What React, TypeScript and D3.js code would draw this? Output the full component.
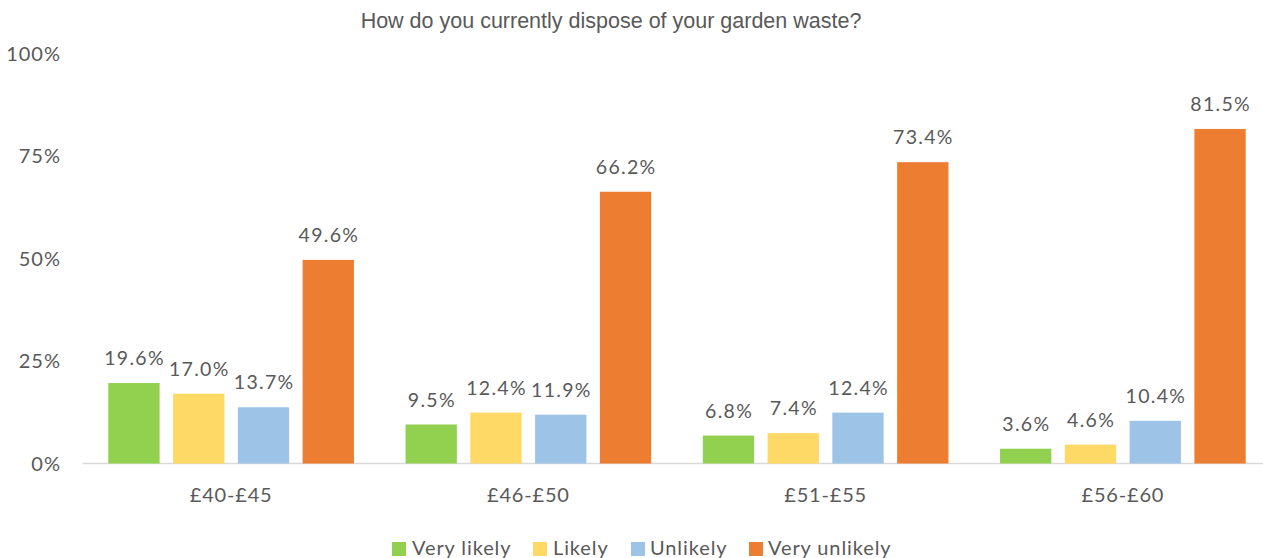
import React from "react";
import * as d3 from "d3";

const categories = ["£40-£45", "£46-£50", "£51-£55", "£56-£60"];
const seriesNames = ["Very likely", "Likely", "Unlikely", "Very unlikely"];
const seriesColors = ["#92D050", "#FFD966", "#9DC3E6", "#ED7D31"];
const veryLikely = [19.6, 9.5, 6.8, 3.6];
const likely = [17.0, 12.4, 7.4, 4.6];
const unlikely = [13.7, 11.9, 12.4, 10.4];
const veryUnlikely = [49.6, 66.2, 73.4, 81.5];
const yTicks = [0, 25, 50, 75, 100];
const title = "How do you currently dispose of your garden waste?";

const seriesValues = [veryLikely, likely, unlikely, veryUnlikely];

const W = 1263;
const H = 558;
const textColor = "#595959";
const labelFont = "Lato, 'Open Sans', sans-serif";

export default function App() {
  const x0 = d3.scaleBand<string>().domain(categories).range([82.5, 1271.5]).padding(0);
  const bw0 = x0.bandwidth();
  const outer = 25.8;
  const x1 = d3
    .scaleBand<string>()
    .domain(seriesNames)
    .range([outer, bw0 - outer])
    .paddingInner(0.208)
    .paddingOuter(0);
  const y = d3.scaleLinear().domain([0, 100]).range([463.5, 53]);

  const legendItems = [
    { x: 392, tx: 412 },
    { x: 533, tx: 553 },
    { x: 631, tx: 650 },
    { x: 749, tx: 768 },
  ];

  return (
    <svg
      width={W}
      height={H}
      style={{ position: "absolute", left: 0, top: 0, background: "#fff" }}
    >
      <text
        x={611}
        y={28}
        textAnchor="middle"
        fill={textColor}
        style={{ font: "21.5px 'Liberation Sans', Arial, sans-serif" }}
      >
        {title}
      </text>
      {yTicks.map((t) => (
        <text
          key={t}
          x={61}
          y={y(t) + 7.5}
          textAnchor="end"
          fill={textColor}
          letterSpacing={1}
          style={{ font: `20px ${labelFont}` }}
        >
          {t}%
        </text>
      ))}
      <line x1={82.5} x2={1271.5} y1={463.5} y2={463.5} stroke="#D9D9D9" strokeWidth={1.5} />
      {categories.map((c, ci) => (
        <g key={c} transform={`translate(${x0(c)},0)`}>
          {seriesNames.map((s, si) => {
            const v = seriesValues[si][ci];
            const bx = x1(s)!;
            return (
              <g key={s}>
                <rect
                  x={bx}
                  y={y(v)}
                  width={x1.bandwidth()}
                  height={y(0) - y(v)}
                  fill={seriesColors[si]}
                />
                <text
                  x={bx + x1.bandwidth() / 2 + 0.6}
                  y={y(v) - 18}
                  textAnchor="middle"
                  fill={textColor}
                  letterSpacing={1.3}
                  style={{ font: `19.5px ${labelFont}` }}
                >
                  {v.toFixed(1)}%
                </text>
              </g>
            );
          })}
          <text
            x={bw0 / 2}
            y={502}
            textAnchor="middle"
            fill={textColor}
            letterSpacing={0.8}
            style={{ font: `20px ${labelFont}` }}
          >
            {c}
          </text>
        </g>
      ))}
      {seriesNames.map((s, i) => (
        <g key={s}>
          <rect x={legendItems[i].x} y={542} width={14} height={14} fill={seriesColors[i]} />
          <text
            x={legendItems[i].tx}
            y={555}
            fill={textColor}
            letterSpacing={0.9}
            style={{ font: `20px ${labelFont}` }}
          >
            {s}
          </text>
        </g>
      ))}
    </svg>
  );
}
